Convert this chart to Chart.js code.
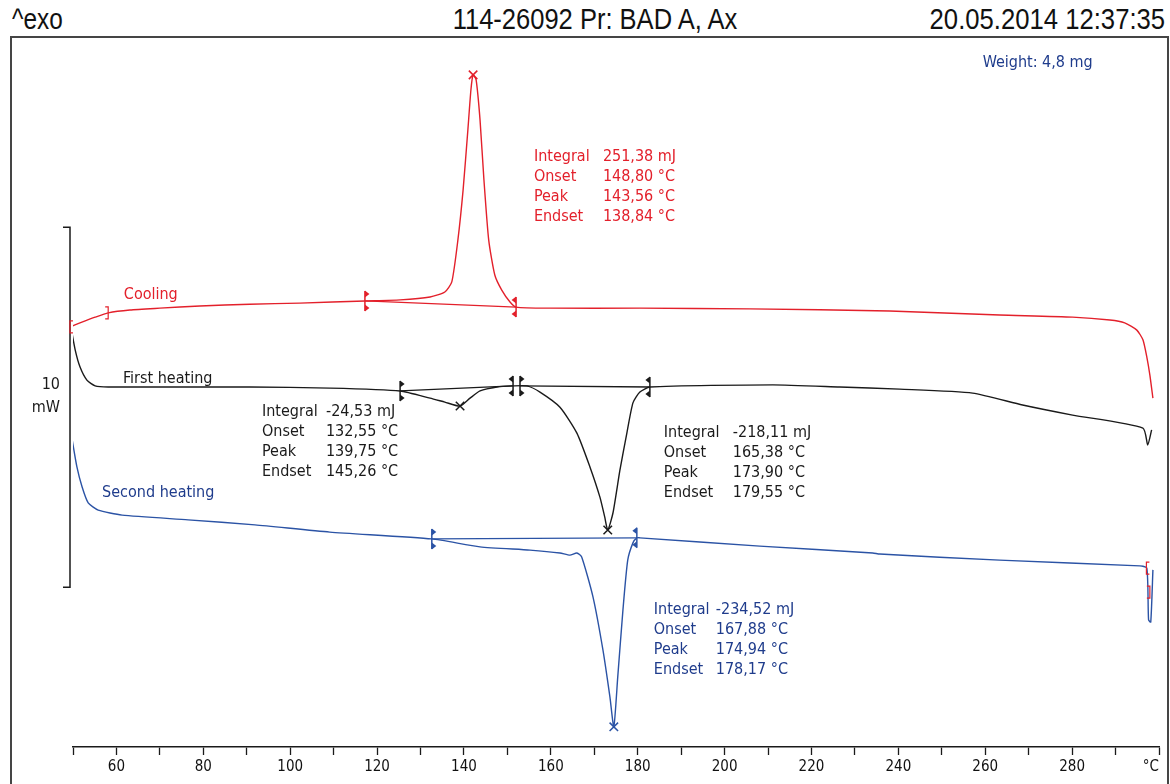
<!DOCTYPE html>
<html>
<head>
<meta charset="utf-8">
<title>DSC 114-26092 Pr: BAD A, Ax</title>
<script src="https://cdn.jsdelivr.net/npm/chart.js@4.4.1/dist/chart.umd.min.js"></script>
<style>
    html, body { margin: 0; padding: 0; background: #fff; }
    body { width: 1170px; height: 784px; position: relative; overflow: hidden; }
    .hdr {
        position: absolute;
        top: 2px;
        font-family: "Liberation Sans Narrow", "Arial Narrow", "Liberation Sans", sans-serif;
        font-size: 29px;
        line-height: 34px;
        color: #111;
        white-space: nowrap;
    }
    #hdrLeft { left: 12px; transform: scaleX(0.84); transform-origin: left center; }
    #hdrMid { left: 595px; transform: translateX(-50%) scaleX(0.88); transform-origin: center center; }
    #hdrRight { right: 5px; transform: scaleX(0.885); transform-origin: right center; }
    #frame {
        position: absolute;
        left: 10px;
        top: 36px;
        width: 1155px;
        height: 800px;
        border: 2px solid #454545;
    }
    #dscChart { position: absolute; left: 0; top: 0; }
</style>
</head>
<body>
<div class="hdr" id="hdrLeft">^exo</div>
<div class="hdr" id="hdrMid">114-26092 Pr: BAD A, Ax</div>
<div class="hdr" id="hdrRight">20.05.2014 12:37:35</div>
<div id="frame"></div>
<canvas id="dscChart" width="1170" height="784"></canvas>

<script>
// Curves: temperature (°C) and heat flow (mW, arbitrary offset)
const coolT = [49.3, 51.6, 55.1, 58.1, 63.1, 70.0, 79.2, 90.7, 102.2, 117.2, 125.3, 132.2, 135.6, 137.2, 138.6, 139.8, 140.9, 141.6, 142.1, 142.8,
    143.7, 144.6, 145.7, 147.1, 148.7, 150.6, 152.0, 159.8, 180.5, 205.8, 238.0, 263.3, 280.1, 288.7, 292.1, 294.9, 296.3, 297.2, 297.9, 298.6];
const coolHF = [11.67, 11.78, 11.94, 12.06, 12.14, 12.19, 12.25, 12.30, 12.33, 12.39, 12.42, 12.50, 12.64, 12.92, 14.08, 15.47, 17.14, 18.25, 18.67, 18.53,
    17.42, 15.75, 14.08, 13.11, 12.69, 12.36, 12.22, 12.19, 12.19, 12.17, 12.11, 12.00, 11.94, 11.86, 11.78, 11.58, 11.31, 10.83, 10.33, 9.69];

const heat1T = [49.5, 50.5, 51.6, 53.2, 55.1, 58.1, 90.7, 109.1, 125.3, 132.2, 135.6, 139.1, 141.4, 143.7, 147.6, 151.3, 154.5, 157.5, 162.1, 166.0,
    169.0, 171.3, 172.4, 173.1, 174.3, 175.9, 177.5, 178.9, 180.5, 182.8, 211.1, 226.5, 240.3, 257.1, 268.6, 280.1, 296.3, 297.4, 298.3];
const heat1HF = [11.67, 11.03, 10.56, 10.19, 10.03, 10.00, 10.00, 9.97, 9.89, 9.69, 9.58, 9.47, 9.69, 9.89, 10.00, 10.03, 10.03, 9.86, 9.44, 8.72,
    7.78, 6.94, 6.39, 6.03, 6.50, 7.69, 8.72, 9.56, 9.86, 10.00, 10.06, 10.00, 9.94, 9.83, 9.50, 9.22, 8.86, 8.39, 8.81];

const heat2T = [49.7, 50.9, 52.1, 53.5, 55.8, 61.3, 76.5, 91.9, 109.1, 132.6, 143.7, 155.2, 162.1, 164.4, 166.0, 167.1, 169.7, 172.0, 173.6, 174.5,
    175.4, 176.6, 177.7, 178.9, 179.8, 180.5, 208.1, 234.1, 235.7, 263.3, 295.6, 297.2, 297.6, 298.1, 298.6];
const heat2HF = [8.61, 7.78, 7.22, 6.78, 6.58, 6.44, 6.31, 6.17, 5.97, 5.78, 5.56, 5.47, 5.39, 5.33, 5.39, 5.28, 4.17, 2.69, 1.39, 0.56,
    1.94, 3.81, 5.19, 5.67, 5.81, 5.81, 5.58, 5.39, 5.36, 5.19, 5.03, 4.97, 3.53, 3.47, 4.92];

// Integration limits (baseline end points)
const limitT = [117.2, 152.0, 125.3, 151.3, 152.9, 182.8, 132.6, 179.8];
const limitHF = [12.39, 12.22, 9.89, 10.03, 10.03, 10.00, 5.78, 5.81];
const limitSide = [1, -1, 1, -1, 1, -1, 1, -1];
const limitCurve = ['cool', 'cool', 'heat1', 'heat1', 'heat1', 'heat1', 'heat2', 'heat2'];

// Peak markers
const peakT = [142.1, 139.1, 173.1, 174.5];
const peakHF = [18.67, 9.47, 6.03, 0.56];
const peakCurve = ['cool', 'heat1', 'heat1', 'heat2'];

// Small red segment brackets
const segT = [49.3, 58.1, 297.1, 297.9];
const segHF = [11.67, 12.06, 4.97, 4.30];
const segSide = [1, -1, 1, -1];

// 10 mW scale bar
const scaleBarTop = 14.44;
const scaleBarSpan = 10;

const RED = '#e3202b';
const BLACK = '#1a1a1a';
const BLUE = '#2b53a5';
const NAVY = '#1f3c8c';
const curveColor = { cool: RED, heat1: BLACK, heat2: BLUE };
const FONT = '"DejaVu Sans Condensed", Roboto, sans-serif';

// Text blocks, anchored at data coordinates
const textBlocks = [
    { t: 259.4, hf: 19.0, color: NAVY, col: 0, rows: [['Weight: 4,8 mg']] },
    { t: 156.1, hf: 16.39, color: RED, col: 69, rows: [['Integral', '251,38 mJ'], ['Onset', '148,80 °C'], ['Peak', '143,56 °C'], ['Endset', '138,84 °C']] },
    { t: 93.5, hf: 9.31, color: BLACK, col: 64, rows: [['Integral', '-24,53 mJ'], ['Onset', '132,55 °C'], ['Peak', '139,75 °C'], ['Endset', '145,26 °C']] },
    { t: 186.0, hf: 8.72, color: BLACK, col: 69, rows: [['Integral', '-218,11 mJ'], ['Onset', '165,38 °C'], ['Peak', '173,90 °C'], ['Endset', '179,55 °C']] },
    { t: 183.7, hf: 3.81, color: NAVY, col: 62, rows: [['Integral', '-234,52 mJ'], ['Onset', '167,88 °C'], ['Peak', '174,94 °C'], ['Endset', '178,17 °C']] },
    { t: 61.7, hf: 12.56, color: RED, col: 0, rows: [['Cooling']] },
    { t: 61.5, hf: 10.22, color: BLACK, col: 0, rows: [['First heating']] },
    { t: 56.7, hf: 7.06, color: NAVY, col: 0, rows: [['Second heating']] }
];

function pts(ts, hs) {
    return ts.map((t, i) => ({ x: t, y: hs[i] }));
}

function pick(arrT, arrHF, mask, key) {
    const t = [], h = [];
    arrT.forEach((v, i) => { if (mask[i] === key) { t.push(v); h.push(arrHF[i]); } });
    return pts(t, h);
}

function curve(label, data, color) {
    return { label, data, borderColor: color, borderWidth: 1.4, showLine: true, pointRadius: 0, tension: 0.2, fill: false };
}

function baseline(data, color) {
    return { data, borderColor: color, borderWidth: 1.3, showLine: true, pointRadius: 0, tension: 0, fill: false };
}

// Overlay: scale bar, limit markers, brackets and texts
const overlay = {
    id: 'overlay',
    afterDatasetsDraw(chart) {
        const { ctx, chartArea, scales: { x, y } } = chart;
        ctx.save();

        // scale bar
        const bx = chartArea.left - 3;
        const yTop = y.getPixelForValue(scaleBarTop);
        const yBot = y.getPixelForValue(scaleBarTop - scaleBarSpan);
        ctx.strokeStyle = BLACK;
        ctx.lineWidth = 1.5;
        ctx.beginPath();
        ctx.moveTo(bx - 7, yTop);
        ctx.lineTo(bx, yTop);
        ctx.lineTo(bx, yBot);
        ctx.lineTo(bx - 7, yBot);
        ctx.stroke();
        ctx.fillStyle = BLACK;
        ctx.font = '16px ' + FONT;
        ctx.textAlign = 'right';
        ctx.textBaseline = 'middle';
        const mid = (yTop + yBot) / 2;
        ctx.fillText('10', bx - 10, mid - 22);
        ctx.fillText('mW', bx - 10, mid + 1);

        // integration limit markers
        limitT.forEach((t, i) => {
            const px = x.getPixelForValue(t);
            const py = y.getPixelForValue(limitHF[i]);
            const d = limitSide[i];
            ctx.strokeStyle = ctx.fillStyle = curveColor[limitCurve[i]];
            ctx.lineWidth = 1.5;
            ctx.beginPath();
            ctx.moveTo(px, py - 10);
            ctx.lineTo(px, py + 10);
            ctx.stroke();
            [-7, 7].forEach(off => {
                ctx.beginPath();
                ctx.moveTo(px, py + off - 3.5);
                ctx.lineTo(px + 4.5 * d, py + off);
                ctx.lineTo(px, py + off + 3.5);
                ctx.closePath();
                ctx.fill();
            });
        });

        // red segment brackets
        ctx.strokeStyle = RED;
        ctx.lineWidth = 1.2;
        segT.forEach((t, i) => {
            const px = x.getPixelForValue(t);
            const py = y.getPixelForValue(segHF[i]);
            const d = segSide[i];
            ctx.beginPath();
            ctx.moveTo(px + 3 * d, py - 6);
            ctx.lineTo(px, py - 6);
            ctx.lineTo(px, py + 6);
            ctx.lineTo(px + 3 * d, py + 6);
            ctx.stroke();
        });

        // texts
        ctx.font = '16px ' + FONT;
        ctx.textAlign = 'left';
        ctx.textBaseline = 'middle';
        textBlocks.forEach(b => {
            const px = x.getPixelForValue(b.t);
            const py = y.getPixelForValue(b.hf);
            ctx.fillStyle = b.color;
            b.rows.forEach((r, k) => {
                ctx.fillText(r[0], px, py + k * 20);
                if (r[1]) ctx.fillText(r[1], px + b.col, py + k * 20);
            });
        });
        ctx.restore();
    }
};

const peakData = pts(peakT, peakHF);

new Chart(document.getElementById('dscChart').getContext('2d'), {
    type: 'scatter',
    data: {
        datasets: [
            curve('Cooling', pts(coolT, coolHF), RED),
            curve('First heating', pts(heat1T, heat1HF), BLACK),
            curve('Second heating', pts(heat2T, heat2HF), BLUE),
            baseline(pick(limitT, limitHF, limitCurve, 'cool'), RED),
            baseline(pick(limitT, limitHF, limitCurve, 'heat1').slice(0, 2), BLACK),
            baseline(pick(limitT, limitHF, limitCurve, 'heat1').slice(2, 4), BLACK),
            baseline(pick(limitT, limitHF, limitCurve, 'heat2'), BLUE),
            {
                data: peakData,
                showLine: false,
                pointStyle: 'crossRot',
                pointRadius: 6,
                pointBorderWidth: 1.5,
                pointBorderColor: peakCurve.map(c => curveColor[c]),
                pointBackgroundColor: 'transparent'
            }
        ]
    },
    options: {
        responsive: false,
        animation: false,
        devicePixelRatio: 1,
        layout: { padding: { top: 45, left: 73, right: 11, bottom: 0 } },
        plugins: {
            legend: { display: false },
            tooltip: { enabled: false }
        },
        scales: {
            x: {
                type: 'linear',
                min: 50,
                max: 300,
                afterFit: (scale) => { scale.height = 37; },
                border: { display: true, color: BLACK, width: 1.6 },
                grid: {
                    display: true,
                    drawOnChartArea: false,
                    drawTicks: true,
                    tickLength: 8,
                    tickColor: BLACK,
                    tickWidth: 1.3
                },
                ticks: {
                    stepSize: 10,
                    autoSkip: false,
                    maxRotation: 0,
                    align: 'inner',
                    padding: 3,
                    color: '#111',
                    font: { family: FONT, size: 15 },
                    callback: (v) => v === 300 ? '°C' : (v % 20 === 0 ? String(v) : '')
                }
            },
            y: { display: false, min: 0, max: 19.5 }
        }
    },
    plugins: [overlay]
});
</script>
</body>
</html>
